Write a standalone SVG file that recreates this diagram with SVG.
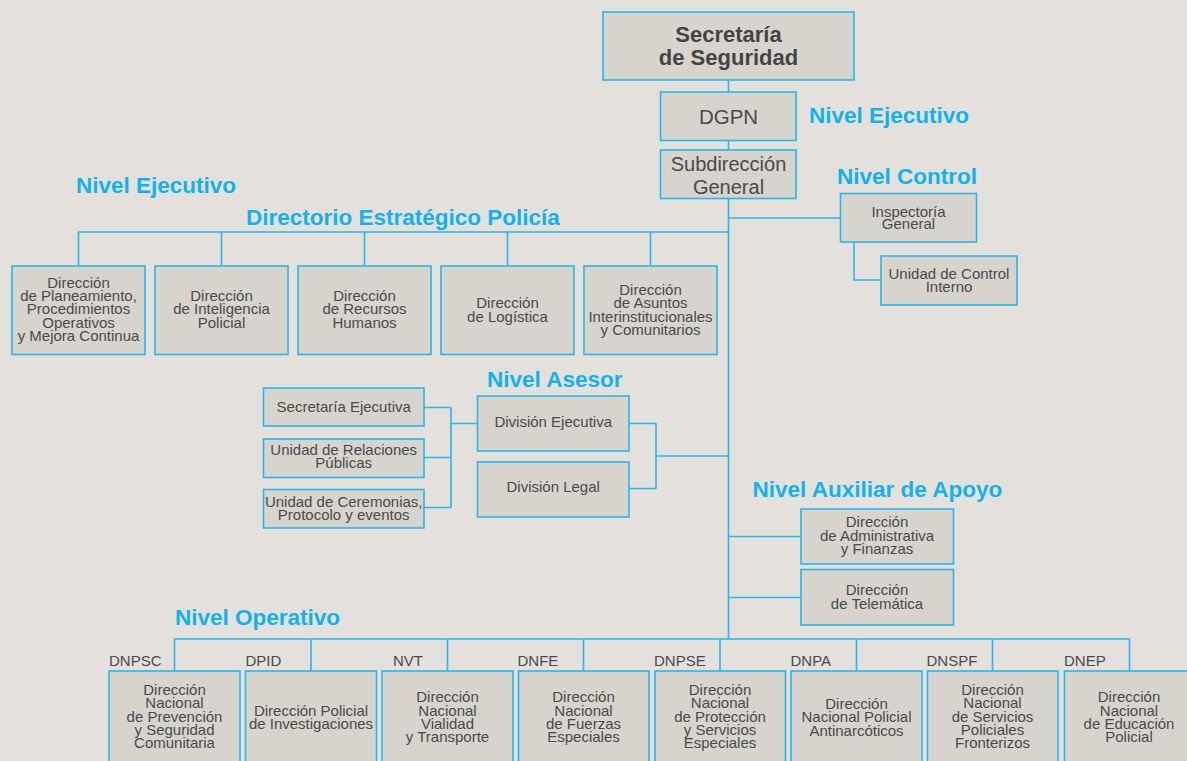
<svg xmlns="http://www.w3.org/2000/svg" width="1187" height="761" viewBox="0 0 1187 761">
<style>
  .bg { fill: #e4e1dd; }
  .box { fill: #d7d4ce; stroke: #29b6e8; stroke-width: 1.6; }
  .ln { fill: none; stroke: #29b6e8; stroke-width: 1.6; }
  .t { font-family: "Liberation Sans", Arial, sans-serif; font-size: 15px; fill: #4a4a4a; text-anchor: middle; }
  .tl { font-family: "Liberation Sans", Arial, sans-serif; font-size: 15px; fill: #4a4a4a; }
  .big { font-size: 20px; }
  .title { font-family: "Liberation Sans", Arial, sans-serif; font-size: 22px; font-weight: bold; fill: #444444; text-anchor: middle; }
  .h { font-family: "Liberation Sans", Arial, sans-serif; font-size: 22.5px; font-weight: bold; fill: #12b2ea; }
</style>
<rect class="bg" x="0" y="0" width="1187" height="761"/>

<!-- connectors -->
<g id="connectors">
  <path class="ln" d="M728.5 80 V639"/>
  <path class="ln" d="M728.5 218 H840"/>
  <path class="ln" d="M854 242 V280 H881"/>
  <path class="ln" d="M78.5 266 V232 H728.5 M221.5 232 V266 M364.5 232 V266 M507.5 232 V266 M650.5 232 V266"/>
  <path class="ln" d="M424 407.5 H451 M424 457.5 H451 M424 507.5 H451 M451 407.5 V507.5 M451 423.5 H477"/>
  <path class="ln" d="M629 423.5 H656 V488.5 H629 M656 456 H728.5"/>
  <path class="ln" d="M728.5 536.5 H801 M728.5 597.5 H801"/>
  <path class="ln" d="M174.5 671 V639 H1129.5 V671 M311 639 V671 M447.5 639 V671 M583.5 639 V671 M720 639 V671 M856.5 639 V671 M992.5 639 V671"/>
</g>

<!-- headings -->
<g id="headings">
  <text class="h" x="809" y="122.5">Nivel Ejecutivo</text>
  <text class="h" x="837" y="184">Nivel Control</text>
  <text class="h" x="76" y="193">Nivel Ejecutivo</text>
  <text class="h" x="246" y="224.5">Directorio Estratégico Policía</text>
  <text class="h" x="487" y="386.5">Nivel Asesor</text>
  <text class="h" x="752.5" y="496.5">Nivel Auxiliar de Apoyo</text>
  <text class="h" x="175" y="625">Nivel Operativo</text>
</g>

<g id="secretaria">
  <rect class="box" x="603" y="12" width="251" height="68"/>
  <text class="title" x="728.5" y="42">Secretaría</text>
  <text class="title" x="728.5" y="64.5">de Seguridad</text>
</g>
<g id="dgpn">
  <rect class="box" x="660.5" y="92" width="135.5" height="48.5"/>
  <text class="t big" x="728.5" y="123.5" style="font-size:20.5px">DGPN</text>
</g>
<g id="subdireccion">
  <rect class="box" x="660.5" y="150" width="135.5" height="48.5"/>
  <text class="t big" x="728.5" y="171">Subdirección</text>
  <text class="t big" x="728.5" y="194">General</text>
</g>

<g id="inspectoria">
  <rect class="box" x="840.5" y="193.5" width="136" height="48.5"/>
  <text class="t" x="908.5" y="216.5">Inspectoría</text>
  <text class="t" x="908.5" y="228.5">General</text>
</g>
<g id="control-interno">
  <rect class="box" x="881" y="256" width="136" height="49"/>
  <text class="t" x="949" y="279">Unidad de Control</text>
  <text class="t" x="949" y="291.5">Interno</text>
</g>

<!-- Directorio Estratégico -->
<g id="dir-planeamiento">
  <rect class="box" x="12" y="266" width="133" height="88.5"/>
  <text class="t" x="78.5" y="287.5">Dirección</text>
  <text class="t" x="78.5" y="301">de Planeamiento,</text>
  <text class="t" x="78.5" y="314.3">Procedimientos</text>
  <text class="t" x="78.5" y="327.6">Operativos</text>
  <text class="t" x="78.5" y="341">y Mejora Continua</text>
</g>
<g id="dir-inteligencia">
  <rect class="box" x="155" y="266" width="133" height="88.5"/>
  <text class="t" x="221.5" y="301">Dirección</text>
  <text class="t" x="221.5" y="314.3">de Inteligencia</text>
  <text class="t" x="221.5" y="327.6">Policial</text>
</g>
<g id="dir-rrhh">
  <rect class="box" x="298" y="266" width="133" height="88.5"/>
  <text class="t" x="364.5" y="301">Dirección</text>
  <text class="t" x="364.5" y="314.3">de Recursos</text>
  <text class="t" x="364.5" y="327.6">Humanos</text>
</g>
<g id="dir-logistica">
  <rect class="box" x="441" y="266" width="133" height="88.5"/>
  <text class="t" x="507.5" y="308.3">Dirección</text>
  <text class="t" x="507.5" y="321.6">de Logística</text>
</g>
<g id="dir-asuntos">
  <rect class="box" x="584" y="266" width="133" height="88.5"/>
  <text class="t" x="650.5" y="295">Dirección</text>
  <text class="t" x="650.5" y="308.3">de Asuntos</text>
  <text class="t" x="650.5" y="321.6">Interinstitucionales</text>
  <text class="t" x="650.5" y="335">y Comunitarios</text>
</g>

<!-- Nivel Asesor -->
<g id="secretaria-ejecutiva">
  <rect class="box" x="263.5" y="388" width="160.5" height="38"/>
  <text class="t" x="343.7" y="411.5">Secretaría Ejecutiva</text>
</g>
<g id="relaciones-publicas">
  <rect class="box" x="263.5" y="439" width="160.5" height="38.5"/>
  <text class="t" x="343.7" y="455">Unidad de Relaciones</text>
  <text class="t" x="343.7" y="468.3">Públicas</text>
</g>
<g id="ceremonias">
  <rect class="box" x="263.5" y="489.5" width="160.5" height="38.5"/>
  <text class="t" x="343.7" y="506.5">Unidad de Ceremonias,</text>
  <text class="t" x="343.7" y="519.5">Protocolo y eventos</text>
</g>
<g id="division-ejecutiva">
  <rect class="box" x="477.5" y="396" width="151.5" height="55"/>
  <text class="t" x="553.2" y="426.5">División Ejecutiva</text>
</g>
<g id="division-legal">
  <rect class="box" x="477.5" y="462" width="151.5" height="55"/>
  <text class="t" x="553.2" y="491.5">División Legal</text>
</g>

<!-- Nivel Auxiliar de Apoyo -->
<g id="dir-administrativa">
  <rect class="box" x="801" y="509" width="152.5" height="55"/>
  <text class="t" x="877" y="527.3">Dirección</text>
  <text class="t" x="877" y="540.8">de Administrativa</text>
  <text class="t" x="877" y="554.3">y Finanzas</text>
</g>
<g id="dir-telematica">
  <rect class="box" x="801" y="569.5" width="152.5" height="55.5"/>
  <text class="t" x="877" y="595">Dirección</text>
  <text class="t" x="877" y="608.6">de Telemática</text>
</g>

<!-- Nivel Operativo -->
<g id="dnpsc">
  <text class="tl" x="109" y="665.5">DNPSC</text>
  <rect class="box" x="109" y="671" width="131" height="100"/>
  <text class="t" x="174.5" y="695">Dirección</text>
  <text class="t" x="174.5" y="708.3">Nacional</text>
  <text class="t" x="174.5" y="721.6">de Prevención</text>
  <text class="t" x="174.5" y="735">y Seguridad</text>
  <text class="t" x="174.5" y="748.3">Comunitaria</text>
</g>
<g id="dpid">
  <text class="tl" x="245.5" y="665.5">DPID</text>
  <rect class="box" x="245.5" y="671" width="131" height="100"/>
  <text class="t" x="311" y="715.6">Dirección Policial</text>
  <text class="t" x="311" y="729.3">de Investigaciones</text>
</g>
<g id="nvt">
  <text class="tl" x="393" y="665.5">NVT</text>
  <rect class="box" x="382" y="671" width="131" height="100"/>
  <text class="t" x="447.5" y="702.3">Dirección</text>
  <text class="t" x="447.5" y="715.6">Nacional</text>
  <text class="t" x="447.5" y="729">Vialidad</text>
  <text class="t" x="447.5" y="742.3">y Transporte</text>
</g>
<g id="dnfe">
  <text class="tl" x="517.5" y="665.5">DNFE</text>
  <rect class="box" x="518.5" y="671" width="130.5" height="100"/>
  <text class="t" x="583.5" y="702.3">Dirección</text>
  <text class="t" x="583.5" y="715.6">Nacional</text>
  <text class="t" x="583.5" y="729">de Fuerzas</text>
  <text class="t" x="583.5" y="742.3">Especiales</text>
</g>
<g id="dnpse">
  <text class="tl" x="654" y="665.5">DNPSE</text>
  <rect class="box" x="655" y="671" width="130.5" height="100"/>
  <text class="t" x="720" y="695">Dirección</text>
  <text class="t" x="720" y="708.3">Nacional</text>
  <text class="t" x="720" y="721.6">de Protección</text>
  <text class="t" x="720" y="735">y Servicios</text>
  <text class="t" x="720" y="748.3">Especiales</text>
</g>
<g id="dnpa">
  <text class="tl" x="790.5" y="665.5">DNPA</text>
  <rect class="box" x="791" y="671" width="131" height="100"/>
  <text class="t" x="856.5" y="709">Dirección</text>
  <text class="t" x="856.5" y="722.3">Nacional Policial</text>
  <text class="t" x="856.5" y="735.6">Antinarcóticos</text>
</g>
<g id="dnspf">
  <text class="tl" x="926.5" y="665.5">DNSPF</text>
  <rect class="box" x="927.5" y="671" width="130.5" height="100"/>
  <text class="t" x="992.5" y="695">Dirección</text>
  <text class="t" x="992.5" y="708.3">Nacional</text>
  <text class="t" x="992.5" y="721.6">de Servicios</text>
  <text class="t" x="992.5" y="735">Policiales</text>
  <text class="t" x="992.5" y="748.3">Fronterizos</text>
</g>
<g id="dnep">
  <text class="tl" x="1064" y="665.5">DNEP</text>
  <rect class="box" x="1064.5" y="671" width="131" height="100"/>
  <text class="t" x="1129" y="702.3">Dirección</text>
  <text class="t" x="1129" y="715.6">Nacional</text>
  <text class="t" x="1129" y="729">de Educación</text>
  <text class="t" x="1129" y="742.3">Policial</text>
</g>
</svg>
